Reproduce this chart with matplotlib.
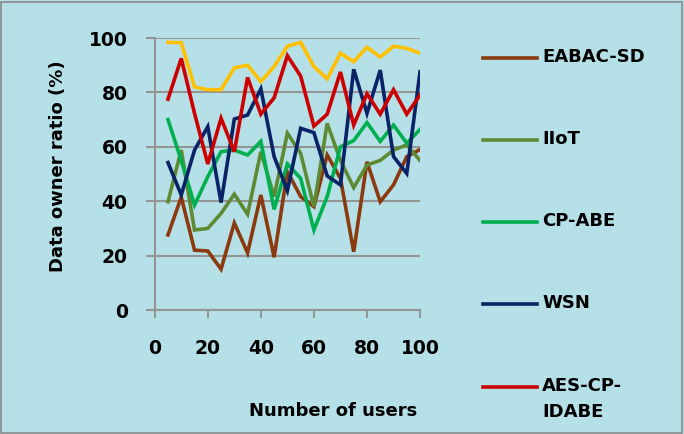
import matplotlib
matplotlib.use('Agg')
import matplotlib.pyplot as plt
from matplotlib.lines import Line2D
from matplotlib.patches import Rectangle

# number of users
users = [5, 10, 15, 20, 25, 30, 35, 40, 45, 50,
         55, 60, 65, 70, 75, 80, 85, 90, 95, 100]

eabac_sd = [27.6, 41.5, 22.0, 21.7, 15.0, 32.0, 21.0, 42.3, 19.4, 50.9,
            41.7, 38.0, 57.0, 48.4, 21.4, 54.5, 39.8, 46.0, 56.4, 59.0]
iiot = [39.8, 58.8, 29.4, 30.0, 35.5, 42.6, 35.2, 58.2, 41.7, 65.0,
        57.6, 38.0, 68.6, 55.0, 45.0, 53.3, 55.0, 58.8, 60.7, 55.0]
cp_abe = [70.0, 55.0, 38.6, 49.0, 58.2, 58.8, 57.0, 62.0, 37.0, 53.7,
          48.4, 29.4, 41.7, 60.0, 62.3, 68.9, 62.0, 68.0, 61.3, 66.4]
wsn = [54.2, 42.3, 58.8, 67.4, 39.5, 70.2, 71.7, 81.3, 56.4, 43.9,
       66.8, 65.2, 49.3, 46.0, 88.5, 72.3, 88.2, 56.4, 50.2, 87.6]
aes_cp_idabe = [77.5, 92.5, 72.3, 53.7, 70.5, 58.2, 85.5, 72.0, 78.0, 93.5,
                86.0, 67.6, 72.0, 87.5, 68.0, 79.5, 72.0, 81.0, 72.0, 79.0]
proposed = [98.4, 98.3, 82.0, 81.0, 81.0, 89.0, 90.0, 84.0, 89.5, 97.0,
            98.4, 89.5, 85.0, 94.4, 91.3, 96.6, 93.0, 97.0, 96.2, 94.4]

series = [
    ("EABAC-SD", eabac_sd, "#8b3a0f"),
    ("IIoT", iiot, "#5e8a34"),
    ("CP-ABE", cp_abe, "#00b050"),
    ("WSN", wsn, "#0a2266"),
    ("AES-CP-\nIDABE", aes_cp_idabe, "#cc0000"),
]

xticks = [0, 20, 40, 60, 80, 100]
yticks = [0, 20, 40, 60, 80, 100]

plt.rcParams['font.family'] = ['DejaVu Sans']
plt.rcParams['font.weight'] = 'bold'

bg = "#b6e0e7"
fig = plt.figure(figsize=(6.84, 4.34), dpi=100, facecolor=bg)
fig.add_artist(Rectangle((0.002, 0.003), 0.995, 0.993, transform=fig.transFigure,
                         fill=False, edgecolor="#8a8a8a", lw=1.2))

ax = fig.add_axes([0.2262, 0.2857, 0.3879, 0.6267])
ax.set_facecolor("none")

for name, vals, col in series:
    ax.plot(users, vals, color=col, lw=2.6, solid_joinstyle='miter')
ax.plot(users, proposed, color="#ffc000", lw=2.6, solid_joinstyle='miter')

ax.set_xlim(0, 100)
ax.set_ylim(0, 100)
ax.set_xticks(xticks)
ax.set_yticks(yticks)
ax.grid(axis='y', color="#959595", lw=1.5)
ax.set_axisbelow(True)
for s in ['top', 'right']:
    ax.spines[s].set_visible(False)
for s in ['left', 'bottom']:
    ax.spines[s].set_color("#959595")
    ax.spines[s].set_linewidth(1.5)
ax.tick_params(axis='y', direction='out', length=6.5, width=1.5, color="#959595",
               pad=13, labelsize=13.5)
ax.tick_params(axis='x', direction='out', length=6, width=1.5, color="#959595",
               pad=15, labelsize=13.5)

ax.set_xlabel("Number of users", fontsize=13, fontweight='bold')
ax.xaxis.set_label_coords(0.672, -0.34)
ax.set_ylabel("Data owner ratio (%)", fontsize=13, fontweight='bold')
ax.yaxis.set_label_coords(-0.33, 0.53)

# legend entries stacked down the right side
leg_y = [58, 140, 222, 304, 387]
for (name, vals, col), py in zip(series, leg_y):
    yf = 1 - py / 434
    fig.add_artist(Line2D([483 / 684, 537 / 684], [yf, yf], color=col, lw=2.6,
                          transform=fig.transFigure))
    fig.text(542 / 684, yf + 10 / 434, name, fontsize=13, fontweight='bold',
             va='top', ha='left', linespacing=1.55)

fig.savefig("out.png", dpi=100, facecolor=bg)
